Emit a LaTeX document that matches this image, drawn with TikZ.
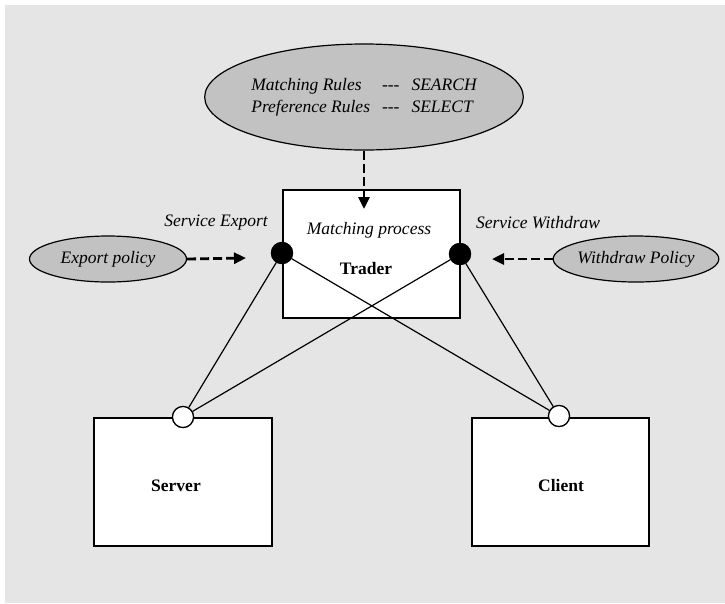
\documentclass[tikz,border=0pt]{standalone}
\usepackage{fontspec}
\setmainfont{Liberation Serif}
\usetikzlibrary{shapes.geometric,arrows.meta}
\definecolor{bgdots}{gray}{0.9}
\definecolor{ovalfill}{gray}{0.76}
\tikzset{
  every node/.style={font=\fontsize{17.5}{22}\selectfont},
  oval/.style={ellipse, draw=black, line width=1.2pt, fill=ovalfill, inner sep=0pt},
  compbox/.style={rectangle, draw=black, line width=1.3pt, fill=white, inner sep=0pt},
  port/.style={circle, draw=black, line width=1.2pt, minimum size=21pt, inner sep=0pt},
  dasharrow/.style={line width=2.8pt, dash pattern=on 9pt off 4pt, -{Triangle[length=12pt,width=11pt]}},
  conn/.style={line width=1.2pt},
  lbl/.style={font=\fontsize{17.5}{22}\selectfont\itshape, inner sep=0pt}
}
\begin{document}
\begin{tikzpicture}[x=1pt,y=-1pt]
\useasboundingbox (0,0) rectangle (725,603);
\fill[bgdots] (5,5) rectangle (725,603);

% rules ellipse
\node[oval, minimum width=286pt, minimum height=106pt] (rules) at (364,97)
  {\itshape\begin{tabular}{@{}l@{\hspace{12pt}}c@{\hspace{12pt}}l@{}}
   Matching Rules & {-}{-}{-} & SEARCH\\
   Preference Rules & {-}{-}{-} & SELECT
   \end{tabular}};

% trader
\node[compbox, minimum width=177pt, minimum height=128pt] (trader) at (371.5,254) {};
\node[lbl] (mp) at (369,230) {Matching process};
\node[font=\fontsize{17.5}{22}\selectfont\bfseries, inner sep=0pt] (tr) at (366,269) {Trader};

% policies
\node[oval, minimum width=157pt, minimum height=46pt] (exp) at (108,259) {\itshape Export policy};
\node[oval, minimum width=158pt, minimum height=46pt] (wd) at (636,259) {\itshape Withdraw Policy};

% labels
\node[lbl] (se) at (216,223) {Service Export};
\node[lbl] (sw) at (538,223) {Service Withdraw};

% server / client
\node[compbox, minimum width=178pt, minimum height=128pt] (server) at (183,482) {};
\node[font=\fontsize{17.5}{22}\selectfont\bfseries, inner sep=0pt] (sv) at (176,486) {Server};
\node[compbox, minimum width=177pt, minimum height=128pt] (client) at (560.5,482) {};
\node[font=\fontsize{17.5}{22}\selectfont\bfseries, inner sep=0pt] (cl) at (561,486) {Client};

% ports
\node[port, fill=black] (lp) at (282,253) {};
\node[port, fill=black] (rp) at (460,254) {};
\node[port, fill=white] (sp) at (183,417) {};
\node[port, fill=white] (cp) at (559,416) {};

% connectors
\draw[conn] (lp) -- (sp);
\draw[conn] (lp) -- (cp);
\draw[conn] (rp) -- (sp);
\draw[conn] (rp) -- (cp);
\node[port, fill=black] at (282,253) {};
\node[port, fill=black] at (460,254) {};
\node[port, fill=white] at (183,417) {};
\node[port, fill=white] at (559,416) {};

% dashed arrows
\coordinate (t1) at (364,209);
\coordinate (t2) at (246,258);
\coordinate (t3) at (492,259);
\draw[dasharrow] (rules.south) -- (t1);
\draw[dasharrow] (exp.east) -- (t2);
\draw[dasharrow] (wd.west) -- (t3);
\end{tikzpicture}
\end{document}
